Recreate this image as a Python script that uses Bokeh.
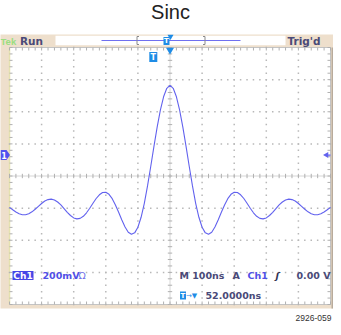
from bokeh.plotting import figure
from bokeh.models import Range1d
from bokeh.core.properties import value
from bokeh.embed import file_html
from bokeh.resources import INLINE
import numpy as np

# ---- data ----
time_ns = list(range(-500, 510, 10))
ch1_mv = [-195, -210, -224, -235, -241, -241, -235, -223, -207, -189,
          -171, -156, -147, -144, -149, -162, -180, -203, -226, -246,
          -261, -267, -264, -251, -229, -201, -170, -140, -117, -103,
          -101, -114, -141, -180, -226, -274, -318, -350, -363, -354,
          -319, -257, -170, -62, 59, 184, 304, 410, 493, 546,
          564,
          546, 493, 410, 304, 184, 59, -62, -170, -257, -319,
          -354, -363, -350, -318, -274, -226, -180, -141, -114, -101,
          -103, -117, -140, -170, -201, -229, -251, -264, -267, -261,
          -246, -226, -203, -180, -162, -149, -144, -147, -156, -171,
          -189, -207, -223, -235, -241, -241, -235, -224, -210, -195]
ground_mv = 130          # channel 1 ground marker level
trig_level_mv = 130      # trigger level marker
trig_pos_ns = -52        # horizontal position (52.0000ns)
x_divs = [-400, -300, -200, -100, 100, 200, 300, 400]
y_divs = [-600, -400, -200, 200, 400, 600]

# ---- layout helpers (reference pixel -> data space) ----
XPX = 1000 / 321
YPX = 1600 / 257
def X(px):
    return -500 + (px - 17) * XPX
def Y(py):
    return 800 - (py - 55) * YPX

p = figure(width=333, height=327, x_range=Range1d(X(8), X(341)),
           y_range=Range1d(Y(335), Y(8)), output_backend="svg",
           toolbar_location=None, min_border=0,
           x_axis_location=None, y_axis_location=None)
p.grid.visible = False
p.outline_line_color = None
p.background_fill_color = "white"
p.border_fill_color = "white"

BEIGE = "#eedfcc"
BLUE = "#6262ee"
TBLUE = "#1e8ce6"
DARK = "#4a4a78"

# beige scope body
p.quad(left=[X(4)], right=[X(341)], top=[Y(42)], bottom=[Y(316)],
       fill_color=BEIGE, line_color=None)
# top status bar
p.quad(left=[X(63)], right=[X(293)], top=[Y(43.3)], bottom=[Y(52.7)],
       fill_color="white", line_color=None)
p.segment(x0=[X(109)], x1=[X(248)], y0=[Y(48)], y1=[Y(48)],
          line_color="#7070f0", line_width=1.2)
for bx, d in [(144.5, 1), (212.5, -1)]:
    p.segment(x0=[X(bx)], x1=[X(bx)], y0=[Y(44)], y1=[Y(52)], line_color="#8a8a8a")
    p.segment(x0=[X(bx), X(bx)], x1=[X(bx + 2 * d), X(bx + 2 * d)],
              y0=[Y(44), Y(52)], y1=[Y(44), Y(52)], line_color="#8a8a8a")
p.rect(x=[X(174)], y=[Y(48.5)], width=6, height=8, width_units="screen",
       height_units="screen", fill_color=TBLUE, line_color=None)
p.text(x=[X(174)], y=[Y(48.5)], text=["T"], text_color="white",
       text_font=value("DejaVu Sans"), text_font_style="bold",
       text_font_size="7px", text_align="center", text_baseline="middle")
p.scatter(x=[X(178)], y=[Y(44)], marker="inverted_triangle", size=6,
          fill_color=TBLUE, line_color=None)

p.text(x=[X(8)], y=[Y(48.5)], text=["Tek"], text_color="#9ade80",
       text_font=value("Liberation Sans"), text_font_style="bold",
       text_font_size="9.5px", text_baseline="middle")
p.text(x=[X(27.5)], y=[Y(48.5)], text=["Run"], text_color=DARK,
       text_font=value("DejaVu Sans"), text_font_style="bold",
       text_font_size="10.5px", text_baseline="middle")
p.text(x=[X(295)], y=[Y(48.5)], text=["Trig'd"], text_color=DARK,
       text_font=value("DejaVu Sans"), text_font_style="bold",
       text_font_size="10.5px", text_baseline="middle")

# graticule
p.quad(left=[-500], right=[500], top=[800], bottom=[-800],
       fill_color="white", line_color="#c4c4c4", line_width=1)
p.segment(x0=[X(17)], x1=[X(17)], y0=[-800], y1=[800], line_color="#e6e2b0", line_width=1.5)
p.segment(x0=[X(340)], x1=[X(340)], y0=[Y(55)], y1=[Y(316)], line_color="#b8ab9c", line_width=2)

dot_x, dot_y = [], []
for xv in x_divs:
    for yv in range(-800, 801, 40):
        dot_x.append(xv); dot_y.append(yv)
for yv in y_divs:
    for xv in range(-500, 501, 20):
        dot_x.append(xv); dot_y.append(yv)
p.scatter(x=dot_x, y=dot_y, marker="square", size=1.5,
          fill_color="#b8b8b8", line_color=None)

# center cross with minor ticks
p.segment(x0=[-500, 0], x1=[500, 0], y0=[0, -800], y1=[0, 800],
          line_color="#d6d6d6", line_width=1)
hx = list(range(-500, 501, 20))
vy = list(range(-800, 801, 40))
tx = 2.2 * XPX
ty = 2.2 * YPX
p.segment(x0=hx, x1=hx, y0=[-ty] * len(hx), y1=[ty] * len(hx), line_color="#b0b0b0")
p.segment(x0=[-tx] * len(vy), x1=[tx] * len(vy), y0=vy, y1=vy, line_color="#b0b0b0")
# edge ticks
e = 3
p.segment(x0=hx, x1=hx, y0=[800] * len(hx), y1=[800 - e * YPX] * len(hx), line_color="#b0b0b0")
p.segment(x0=hx, x1=hx, y0=[-800] * len(hx), y1=[-800 + e * YPX] * len(hx), line_color="#b0b0b0")
p.segment(x0=[-500] * len(vy), x1=[-500 + e * XPX] * len(vy), y0=vy, y1=vy, line_color="#b0b0b0")
p.segment(x0=[500] * len(vy), x1=[500 - e * XPX] * len(vy), y0=vy, y1=vy, line_color="#b0b0b0")

# waveform
p.line(x=time_ns, y=ch1_mv, line_color=BLUE, line_width=1.1)

# markers
p.scatter(x=[0], y=[Y(57.5)], marker="inverted_triangle", size=8,
          fill_color=TBLUE, line_color=None)
p.rect(x=[trig_pos_ns], y=[Y(64.5)], width=8, height=10, width_units="screen",
       height_units="screen", fill_color=TBLUE, line_color=None)
p.text(x=[trig_pos_ns], y=[Y(64.5)], text=["T"], text_color="white",
       text_font=value("DejaVu Sans"), text_font_style="bold",
       text_font_size="8px", text_align="center", text_baseline="middle")

gy = ground_mv
h5 = 5 * YPX
p.patch(x=[X(8), X(14), X(17.5), X(14), X(8)],
        y=[gy + h5, gy + h5, gy, gy - h5, gy - h5],
        fill_color="#5252ee", line_color=None)
p.text(x=[X(11.5)], y=[gy], text=["1"], text_color="white",
       text_font=value("DejaVu Sans"), text_font_style="bold",
       text_font_size="8px", text_align="center", text_baseline="middle")
p.scatter(x=[X(334)], y=[trig_level_mv], marker="triangle", angle=np.pi / 2,
          size=6, fill_color=BLUE, line_color=None)
p.segment(x0=[X(334)], x1=[X(338)], y0=[trig_level_mv], y1=[trig_level_mv],
          line_color=BLUE, line_width=1.2)

# readouts
FONT = value("DejaVu Sans")
p.quad(left=[X(20)], right=[X(41)], top=[Y(278.5)], bottom=[Y(287.5)],
       fill_color="#4646e6", line_color=None)
p.text(x=[X(30.5)], y=[Y(283)], text=["Ch1"], text_color="white", text_font=FONT,
       text_font_style="bold", text_font_size="9px", text_align="center",
       text_baseline="middle")
p.text(x=[X(50)], y=[Y(283)], text=["200mV"], text_color="#5050e6", text_font=FONT,
       text_font_style="bold", text_font_size="9.5px", text_baseline="middle")
p.text(x=[X(86)], y=[Y(283)], text=["\u03a9"], text_color="#7070ea", text_font=FONT,
       text_font_size="9.5px", text_baseline="middle")
p.text(x=[X(187)], y=[Y(283)], text=["M 100ns"], text_color=DARK, text_font=FONT,
       text_font_style="bold", text_font_size="9.5px", text_baseline="middle")
p.text(x=[X(240)], y=[Y(283)], text=["A"], text_color=DARK, text_font=FONT,
       text_font_style="bold", text_font_size="9.5px", text_baseline="middle")
p.text(x=[X(255)], y=[Y(283)], text=["Ch1"], text_color="#5050e6", text_font=FONT,
       text_font_style="bold", text_font_size="9.5px", text_baseline="middle")
p.text(x=[X(283)], y=[Y(283)], text=["\u0283"], text_color="#333355", text_font=FONT,
       text_font_style="bold italic", text_font_size="9.5px", text_baseline="middle")
p.text(x=[X(304)], y=[Y(283)], text=["0.00 V"], text_color=DARK, text_font=FONT,
       text_font_style="bold", text_font_size="9.5px", text_baseline="middle")
p.rect(x=[X(190.5)], y=[Y(303)], width=6, height=8, width_units="screen",
       height_units="screen", fill_color=TBLUE, line_color=None)
p.text(x=[X(190.5)], y=[Y(303)], text=["T"], text_color="white", text_font=FONT,
       text_font_style="bold", text_font_size="7px", text_align="center",
       text_baseline="middle")
p.text(x=[X(193.5)], y=[Y(303)], text=["\u2192\u25bc"], text_color=TBLUE, text_font=FONT,
       text_font_size="7px", text_baseline="middle")
p.text(x=[X(213)], y=[Y(303)], text=["52.0000ns"], text_color=DARK, text_font=FONT,
       text_font_style="bold", text_font_size="9.5px", text_baseline="middle")

# title and figure id
p.text(x=[X(178)], y=[Y(19)], text=["Sinc"], text_color="#222222",
       text_font=value("Liberation Sans"), text_font_size="20px",
       text_align="center", text_baseline="middle")
p.text(x=[X(339)], y=[Y(325)], text=["2926-059"], text_color="#333333",
       text_font=value("Liberation Sans"), text_font_size="8.5px",
       text_align="right", text_baseline="middle")

open("out.html", "w").write(file_html(p, INLINE))
